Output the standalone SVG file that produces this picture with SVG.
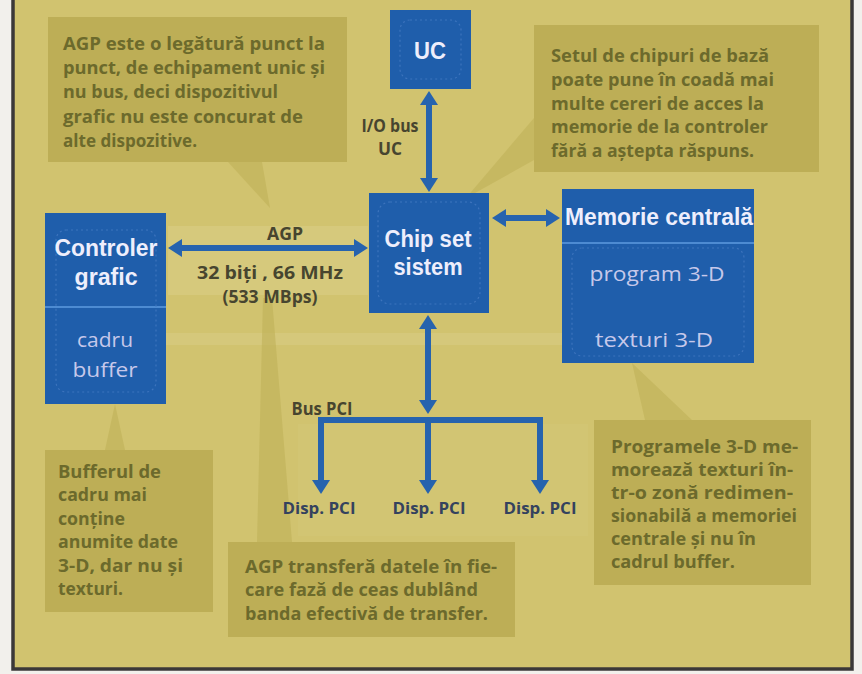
<svg xmlns="http://www.w3.org/2000/svg" width="862" height="674" viewBox="0 0 862 674">
<defs>
<style>
.box{fill:#1f5eab}
.div{stroke:#4d8bd2;stroke-width:2}
.inner{fill:none;stroke:#3d74bd;stroke-width:1.2;stroke-dasharray:2 3}
.call{fill:#bdae56}
.tail{fill:#bdae56;opacity:.55}
.ct{font-family:"Open Sans","Liberation Sans",sans-serif;font-weight:700;font-size:17px;fill:#6c6a2c}
.ttl{font-family:"Liberation Sans","Open Sans",sans-serif;font-weight:700;font-size:23px;fill:#eeeefc;text-anchor:middle}
.sub{font-family:"Open Sans","Liberation Sans",sans-serif;font-weight:400;font-size:20px;fill:#c6c8ea;text-anchor:middle}
.lbl{font-family:"Open Sans","Liberation Sans",sans-serif;font-weight:700;font-size:17px;fill:#47452f;text-anchor:middle}
.pci{font-family:"Open Sans","Liberation Sans",sans-serif;font-weight:700;font-size:16px;fill:#34425e;text-anchor:middle}
.arr{fill:none;stroke:#2663ae;stroke-width:6;stroke-linejoin:miter}
</style>
<marker id="ah" viewBox="0 0 14 18" refX="0" refY="9" markerWidth="14" markerHeight="18" markerUnits="userSpaceOnUse" orient="auto-start-reverse">
<path d="M0,0 L14,9 L0,18 z" fill="#2663ae"/>
</marker>
</defs>
<rect x="0" y="0" width="862" height="674" fill="#f2f0ec"/>
<rect x="13" y="-4" width="839" height="673" fill="#d1c36f" stroke="#3b3838" stroke-width="3.5"/>
<rect x="168" y="226" width="200" height="69" fill="#d9cd85" opacity=".6"/>
<rect x="166" y="333" width="396" height="12" fill="#dcd291" opacity=".35"/>
<rect x="298" y="424" width="290" height="112" fill="#d8cb80" opacity=".25"/>

<g id="tails">
<polygon class="tail" points="228,162 262,162 270,208"/>
<polygon class="tail" points="534,118 534,160 466,198"/>
<polygon class="tail" points="105,450 125,450 115,404"/>
<polygon class="tail" points="257,542 292,542 272,298 263,298"/>
<polygon class="tail" points="632,363 645,420 692,420"/>
</g>

<g id="callout-agp-link">
<rect class="call" x="48" y="17" width="299" height="145"/>
<text class="ct" x="63" y="50" textLength="262" lengthAdjust="spacingAndGlyphs">AGP este o legătură punct la</text>
<text class="ct" x="63" y="74" textLength="262" lengthAdjust="spacingAndGlyphs">punct, de echipament unic și</text>
<text class="ct" x="63" y="98" textLength="215" lengthAdjust="spacingAndGlyphs">nu bus, deci dispozitivul</text>
<text class="ct" x="63" y="123" textLength="240" lengthAdjust="spacingAndGlyphs">grafic nu este concurat de</text>
<text class="ct" x="63" y="147" textLength="134" lengthAdjust="spacingAndGlyphs">alte dispozitive.</text>
</g>

<g id="callout-chipset">
<rect class="call" x="534" y="25" width="285" height="147"/>
<text class="ct" x="551" y="62" textLength="218" lengthAdjust="spacingAndGlyphs">Setul de chipuri de bază</text>
<text class="ct" x="551" y="86" textLength="223" lengthAdjust="spacingAndGlyphs">poate pune în coadă mai</text>
<text class="ct" x="551" y="110" textLength="213" lengthAdjust="spacingAndGlyphs">multe cereri de acces la</text>
<text class="ct" x="551" y="133" textLength="217" lengthAdjust="spacingAndGlyphs">memorie de la controler</text>
<text class="ct" x="551" y="157" textLength="203" lengthAdjust="spacingAndGlyphs">fără a aștepta răspuns.</text>
</g>

<g id="callout-buffer">
<rect class="call" x="45" y="450" width="168" height="162"/>
<text class="ct" x="58" y="478" textLength="103" lengthAdjust="spacingAndGlyphs">Bufferul de</text>
<text class="ct" x="58" y="501" textLength="89" lengthAdjust="spacingAndGlyphs">cadru mai</text>
<text class="ct" x="58" y="525" textLength="67" lengthAdjust="spacingAndGlyphs">conține</text>
<text class="ct" x="58" y="548" textLength="120" lengthAdjust="spacingAndGlyphs">anumite date</text>
<text class="ct" x="58" y="572" textLength="125" lengthAdjust="spacingAndGlyphs">3-D, dar nu și</text>
<text class="ct" x="58" y="595" textLength="65" lengthAdjust="spacingAndGlyphs">texturi.</text>
</g>

<g id="callout-agp-transfer">
<rect class="call" x="228" y="542" width="287" height="95"/>
<text class="ct" x="245" y="573" textLength="252" lengthAdjust="spacingAndGlyphs">AGP transferă datele în fie-</text>
<text class="ct" x="245" y="596" textLength="233" lengthAdjust="spacingAndGlyphs">care fază de ceas dublând</text>
<text class="ct" x="245" y="620" textLength="243" lengthAdjust="spacingAndGlyphs">banda efectivă de transfer.</text>
</g>

<g id="callout-textures">
<rect class="call" x="594" y="420" width="217" height="165"/>
<text class="ct" x="611" y="453" textLength="187" lengthAdjust="spacingAndGlyphs">Programele 3-D me-</text>
<text class="ct" x="611" y="476" textLength="182" lengthAdjust="spacingAndGlyphs">morează texturi în-</text>
<text class="ct" x="611" y="499" textLength="182" lengthAdjust="spacingAndGlyphs">tr-o zonă redimen-</text>
<text class="ct" x="611" y="522" textLength="186" lengthAdjust="spacingAndGlyphs">sionabilă a memoriei</text>
<text class="ct" x="611" y="545" textLength="145" lengthAdjust="spacingAndGlyphs">centrale și nu în</text>
<text class="ct" x="611" y="568" textLength="124" lengthAdjust="spacingAndGlyphs">cadrul buffer.</text>
</g>

<g id="uc">
<rect class="box" x="390" y="10" width="81" height="79"/>
<rect class="inner" x="400" y="20" width="61" height="59" rx="10"/>
<text class="ttl" x="430" y="59" textLength="32" lengthAdjust="spacingAndGlyphs">UC</text>
</g>

<g id="chipset">
<rect class="box" x="369" y="193" width="120" height="120"/>
<rect class="inner" x="378" y="202" width="102" height="102" rx="12"/>
<text class="ttl" x="428" y="247" textLength="87" lengthAdjust="spacingAndGlyphs">Chip set</text>
<text class="ttl" x="428" y="275" textLength="69" lengthAdjust="spacingAndGlyphs">sistem</text>
</g>

<g id="controler">
<rect class="box" x="45" y="213" width="121" height="191"/>
<line class="div" x1="45" y1="307" x2="166" y2="307"/>
<rect class="inner" x="56" y="230" width="100" height="162" rx="10"/>
<text class="ttl" x="106" y="256" textLength="103" lengthAdjust="spacingAndGlyphs">Controler</text>
<text class="ttl" x="106" y="285" textLength="63" lengthAdjust="spacingAndGlyphs">grafic</text>
<text class="sub" x="105" y="347" textLength="56" lengthAdjust="spacingAndGlyphs">cadru</text>
<text class="sub" x="105" y="377" textLength="65" lengthAdjust="spacingAndGlyphs">buffer</text>
</g>

<g id="memorie">
<rect class="box" x="562" y="189" width="192" height="174"/>
<line class="div" x1="562" y1="243" x2="754" y2="243"/>
<rect class="inner" x="572" y="248" width="172" height="108" rx="10"/>
<text class="ttl" x="659" y="225" textLength="188" lengthAdjust="spacingAndGlyphs">Memorie centrală</text>
<text class="sub" x="657" y="281" textLength="135" lengthAdjust="spacingAndGlyphs">program 3-D</text>
<text class="sub" x="654" y="347" textLength="118" lengthAdjust="spacingAndGlyphs">texturi 3-D</text>
</g>

<g id="connectors">
<line class="arr" x1="429" y1="105" x2="429" y2="178" marker-start="url(#ah)" marker-end="url(#ah)"/>
<line class="arr" x1="182" y1="248" x2="354" y2="248" marker-start="url(#ah)" marker-end="url(#ah)"/>
<line class="arr" x1="506" y1="218" x2="546" y2="218" marker-start="url(#ah)" marker-end="url(#ah)"/>
<line class="arr" x1="428" y1="329" x2="428" y2="400" marker-start="url(#ah)" marker-end="url(#ah)"/>
<polyline class="arr" points="321,480 321,420 540,420 540,480" marker-start="url(#ah)" marker-end="url(#ah)"/>
<line class="arr" x1="428" y1="420" x2="428" y2="480" marker-end="url(#ah)"/>
</g>

<g id="labels">
<text class="lbl" x="390" y="132" textLength="57" lengthAdjust="spacingAndGlyphs">I/O bus</text>
<text class="lbl" x="390" y="155" textLength="24" lengthAdjust="spacingAndGlyphs">UC</text>
<text class="lbl" x="285" y="240" textLength="36" lengthAdjust="spacingAndGlyphs">AGP</text>
<text class="lbl" x="270" y="279" font-size="19" textLength="146" lengthAdjust="spacingAndGlyphs">32 biți , 66 MHz</text>
<text class="lbl" x="270" y="303" font-weight="600" textLength="95" lengthAdjust="spacingAndGlyphs">(533 MBps)</text>
<text class="lbl" x="322" y="415" text-anchor="start" font-weight="600" font-size="16" textLength="61" lengthAdjust="spacingAndGlyphs">Bus PCI</text>
<text class="pci" x="319" y="514" textLength="73" lengthAdjust="spacingAndGlyphs">Disp. PCI</text>
<text class="pci" x="429" y="514" textLength="73" lengthAdjust="spacingAndGlyphs">Disp. PCI</text>
<text class="pci" x="540" y="514" textLength="73" lengthAdjust="spacingAndGlyphs">Disp. PCI</text>
</g>
</svg>
